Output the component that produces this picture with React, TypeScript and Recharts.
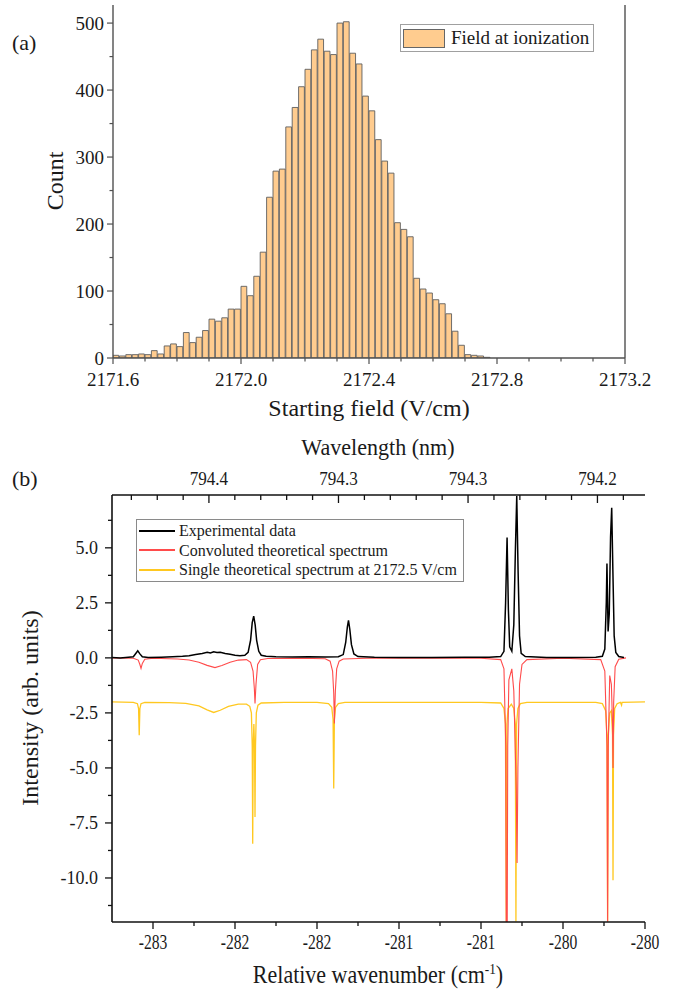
import React from "react";
import { BarChart, Bar, LineChart, Line, XAxis, YAxis, ReferenceLine, Legend } from "recharts";

const SERIF = '"Liberation Serif", "Times New Roman", serif';

// ---- (a) field at ionization histogram ----
const fieldBins = [
  2171.61, 2171.63, 2171.65, 2171.67, 2171.69, 2171.71, 2171.73, 2171.75, 2171.77, 2171.79,
  2171.81, 2171.83, 2171.85, 2171.87, 2171.89, 2171.91, 2171.93, 2171.95, 2171.97, 2171.99,
  2172.01, 2172.03, 2172.05, 2172.07, 2172.09, 2172.11, 2172.13, 2172.15, 2172.17, 2172.19,
  2172.21, 2172.23, 2172.25, 2172.27, 2172.29, 2172.31, 2172.33, 2172.35, 2172.37, 2172.39,
  2172.41, 2172.43, 2172.45, 2172.47, 2172.49, 2172.51, 2172.53, 2172.55, 2172.57, 2172.59,
  2172.61, 2172.63, 2172.65, 2172.67, 2172.69, 2172.71, 2172.73, 2172.75, 2172.77,
];
const fieldCounts = [
  4, 3, 5, 5, 6, 5, 11, 6, 18, 21,
  17, 38, 23, 31, 41, 58, 55, 60, 73, 73,
  107, 93, 122, 158, 240, 279, 282, 345, 374, 405,
  431, 460, 476, 458, 453, 500, 502, 455, 439, 391,
  369, 326, 294, 276, 202, 192, 181, 119, 103, 97,
  87, 81, 66, 40, 19, 5, 4, 3, 1,
];
const fieldTicks = [
  2171.6, 2171.7, 2171.8, 2171.9, 2172.0, 2172.1, 2172.2, 2172.3, 2172.4,
  2172.5, 2172.6, 2172.7, 2172.8, 2172.9, 2173.0, 2173.1, 2173.2,
];
const fieldMajor = [2171.6, 2172.0, 2172.4, 2172.8, 2173.2];
const countTicks = [0, 50, 100, 150, 200, 250, 300, 350, 400, 450, 500];
const countMajor = [0, 100, 200, 300, 400, 500];
const histName = "Field at ionization";

// ---- (b) spectra ----
const expWn = [
  -283.25, -283.2, -283.15, -283.12, -283.105, -283.093, -283.08, -283.065, -283.03, -282.95,
  -282.88, -282.82, -282.78, -282.74, -282.7, -282.67, -282.65, -282.63, -282.61, -282.59,
  -282.56, -282.53, -282.5, -282.47, -282.44, -282.42, -282.405, -282.395, -282.386, -282.377,
  -282.368, -282.355, -282.34, -282.31, -282.25, -282.15, -282.05, -281.95, -281.87, -281.84,
  -281.825, -281.815, -281.808, -281.8, -281.79, -281.775, -281.75, -281.65, -281.5, -281.3,
  -281.1, -280.95, -280.88, -280.86, -280.85, -280.841, -280.833, -280.825, -280.812, -280.8,
  -280.79, -280.782, -280.774, -280.765, -280.755, -280.73, -280.6, -280.45, -280.3, -280.26,
  -280.245, -280.236, -280.232, -280.225, -280.218, -280.21, -280.203, -280.196, -280.188, -280.178,
  -280.16, -280.128,
];
const expInt = [
  0.02, 0.0, 0.03, 0.05, 0.2, 0.32, 0.18, 0.05, 0.02, 0.03,
  0.05, 0.07, 0.1, 0.15, 0.2, 0.25, 0.22, 0.28, 0.24, 0.26,
  0.2, 0.16, 0.12, 0.1, 0.12, 0.25, 0.8, 1.6, 1.9, 1.5,
  0.8, 0.3, 0.12, 0.07, 0.05, 0.04, 0.05, 0.04, 0.05, 0.15,
  0.7, 1.4, 1.7, 1.3, 0.6, 0.18, 0.06, 0.03, 0.02, 0.02,
  0.03, 0.03, 0.06, 0.3, 2.5, 5.47, 2.2, 0.5, 0.3, 1.5,
  5.0, 7.35, 4.0, 1.0, 0.2, 0.06, 0.02, 0.02, 0.03, 0.07,
  0.4, 2.5, 4.29, 1.2, 2.0, 5.5, 6.82, 4.0, 1.0, 0.25,
  0.06, 0.02,
];

const convWn = [
  -283.25, -283.12, -283.09, -283.08, -283.073, -283.065, -283.05, -283.0, -282.85, -282.78,
  -282.72, -282.67, -282.622, -282.58, -282.53, -282.48, -282.43, -282.405, -282.39, -282.382,
  -282.378, -282.372, -282.362, -282.345, -282.3, -282.1, -281.95, -281.92, -281.905, -281.898,
  -281.894, -281.888, -281.88, -281.865, -281.84, -281.7, -281.3, -281.0, -280.88, -280.86,
  -280.849, -280.846, -280.84, -280.837, -280.83, -280.812, -280.8, -280.785, -280.78, -280.775,
  -280.765, -280.75, -280.72, -280.5, -280.27, -280.245, -280.232, -280.228, -280.224, -280.215,
  -280.205, -280.198, -280.195, -280.191, -280.182, -280.16, -280.116,
];
const convInt = [
  0, -0.02, -0.1, -0.3, -0.48, -0.25, -0.06, -0.02, -0.05, -0.1,
  -0.2, -0.34, -0.44, -0.35, -0.2, -0.1, -0.08, -0.2, -0.6, -1.4,
  -2.07, -1.2, -0.3, -0.08, -0.03, -0.02, -0.04, -0.15, -0.6, -1.6,
  -2.98, -1.5, -0.5, -0.15, -0.05, -0.02, -0.01, -0.02, -0.08, -0.5,
  -4.0, -11.98, -11.98, -4.0, -1.0, -0.5, -1.5, -6.0, -9.32, -5.0,
  -1.2, -0.3, -0.08, -0.02, -0.08, -0.6, -4.0, -11.98, -4.0, -0.8,
  -1.2, -3.0, -5.0, -2.0, -0.4, -0.06, 0,
];

const singleWn = [
  -283.25, -283.12, -283.095, -283.088, -283.084, -283.08, -283.073, -283.05, -282.9, -282.8,
  -282.72, -282.67, -282.63, -282.59, -282.54, -282.48, -282.43, -282.41, -282.4, -282.395,
  -282.392, -282.389, -282.385, -282.381, -282.378, -282.375, -282.37, -282.36, -282.34, -282.2,
  -282.0, -281.93, -281.91, -281.902, -281.898, -281.894, -281.887, -281.87, -281.83, -281.0,
  -280.88, -280.86, -280.851, -280.846, -280.842, -280.835, -280.815, -280.8, -280.791, -280.787,
  -280.783, -280.775, -280.76, -280.72, -280.3, -280.26, -280.24, -280.232, -280.228, -280.224,
  -280.215, -280.205, -280.198, -280.195, -280.192, -280.185, -280.17, -280.15, -280.143, -280.14,
  -280.0,
];
const singleInt = [
  -2.0, -2.02, -2.08, -2.3, -3.51, -2.3, -2.08, -2.02, -2.03, -2.07,
  -2.18, -2.36, -2.48, -2.38, -2.2, -2.1, -2.1, -2.2, -2.5, -4.0,
  -8.44, -4.0, -3.0, -4.0, -7.23, -4.0, -2.5, -2.15, -2.05, -2.02,
  -2.02, -2.08, -2.25, -2.8, -5.94, -2.8, -2.25, -2.08, -2.02, -2.02,
  -2.05, -2.3, -3.0, -11.98, -3.0, -2.3, -2.1, -2.3, -3.0, -11.98,
  -3.0, -2.3, -2.08, -2.02, -2.02, -2.08, -2.4, -3.5, -11.98, -3.5,
  -2.5, -2.4, -3.5, -10.1, -3.5, -2.3, -2.08, -2.02, -2.15, -2.02,
  -2.0,
];

const seriesNames = [
  "Experimental data",
  "Convoluted theoretical spectrum",
  "Single theoretical spectrum at 2172.5 V/cm",
];
const seriesColors = ["#000000", "#ff4b4b", "#ffc820"];

const wnTicks = [
  -283, -282.75, -282.5, -282.25, -282, -281.75, -281.5, -281.25, -281, -280.75, -280.5, -280.25, -280,
];
const wnMajor = [-283, -282.5, -282, -281.5, -281, -280.5, -280];
const intTicks = [
  -11.25, -10, -8.75, -7.5, -6.25, -5, -3.75, -2.5, -1.25, 0, 1.25, 2.5, 3.75, 5, 6.25,
];
const intMajor = [-10, -7.5, -5, -2.5, 0, 2.5, 5];
// wavelength ticks placed at their wavenumber positions
const wlTicks = [
  -283.132, -282.974, -282.816, -282.659, -282.501, -282.343, -282.185, -282.027, -281.869, -281.711,
  -281.553, -281.395, -281.237, -281.079, -280.921, -280.763, -280.605, -280.448, -280.29, -280.132,
];
const wlMajor = [-282.659, -281.869, -281.079, -280.29];
const wlLabels = ["794.4", "794.3", "794.3", "794.2"];

const histData = fieldBins.map((f, i) => ({ field: f, count: fieldCounts[i] }));
const zip = (xs: number[], ys: number[]) => xs.map((x, i) => ({ wn: x, v: ys[i] }));
const specData = [zip(expWn, expInt), zip(convWn, convInt), zip(singleWn, singleInt)];

const near = (list: number[], v: number) => list.findIndex((m) => Math.abs(m - v) < 1e-6);

type TickOpts = {
  majors: number[];
  fmt: (v: number, idx: number) => string;
  color: string;
  width: number;
  major: number;
  minor: number;
  gap: number;
  size: number;
  sx?: number;
};

function bottomTick(o: TickOpts) {
  return (p: any) => {
    const v = p.payload.value;
    const idx = near(o.majors, v);
    const len = idx >= 0 ? o.major : o.minor;
    return (
      <g>
        <line x1={p.x} x2={p.x} y1={p.y} y2={p.y + len} stroke={o.color} strokeWidth={o.width} />
        {idx >= 0 && (
          <text
            transform={`translate(${p.x},${p.y + o.gap}) scale(${o.sx ?? 1},1)`}
            textAnchor="middle"
            fontFamily={SERIF}
            fontSize={o.size}
            fill="#1a1a1a"
          >
            {o.fmt(v, idx)}
          </text>
        )}
      </g>
    );
  };
}

function topTick(o: TickOpts) {
  return (p: any) => {
    const v = p.payload.value;
    const idx = near(o.majors, v);
    const len = idx >= 0 ? o.major : o.minor;
    return (
      <g>
        <line x1={p.x} x2={p.x} y1={p.y} y2={p.y + len} stroke={o.color} strokeWidth={o.width} />
        {idx >= 0 && (
          <text
            transform={`translate(${p.x},${p.y - o.gap}) scale(${o.sx ?? 1},1)`}
            textAnchor="middle"
            fontFamily={SERIF}
            fontSize={o.size}
            fill="#1a1a1a"
          >
            {o.fmt(v, idx)}
          </text>
        )}
      </g>
    );
  };
}

function leftTick(o: TickOpts) {
  return (p: any) => {
    const v = p.payload.value;
    const idx = near(o.majors, v);
    const len = idx >= 0 ? o.major : o.minor;
    return (
      <g>
        <line x1={p.x - len} x2={p.x} y1={p.y} y2={p.y} stroke={o.color} strokeWidth={o.width} />
        {idx >= 0 && (
          <text
            transform={`translate(${p.x - o.gap},${p.y}) scale(${o.sx ?? 1},1)`}
            dy="0.35em"
            textAnchor="end"
            fontFamily={SERIF}
            fontSize={o.size}
            fill="#1a1a1a"
          >
            {o.fmt(v, idx)}
          </text>
        )}
      </g>
    );
  };
}

const AXIS_A = "#505050";
const AXIS_B = "#111111";

function HistLegend() {
  return (
    <div
      style={{
        display: "flex",
        alignItems: "center",
        border: "1px solid #a0a0a0",
        background: "#fff",
        padding: "2px 4px 2px 2px",
        fontFamily: SERIF,
        fontSize: 19,
        lineHeight: "22px",
        color: "#1a1a1a",
        whiteSpace: "nowrap",
      }}
    >
      <span
        style={{
          display: "inline-block",
          width: 42,
          height: 19,
          background: "#ffcc8f",
          border: "1px solid #666",
          boxSizing: "border-box",
          marginRight: 6,
        }}
      />
      {histName}
    </div>
  );
}

function SpecLegend() {
  return (
    <div
      style={{
        border: "1px solid #8a8a8a",
        background: "#fff",
        padding: "1px 6px 1px 2px",
        fontFamily: SERIF,
        fontSize: 16,
        lineHeight: "19.5px",
        color: "#1a1a1a",
        whiteSpace: "nowrap",
      }}
    >
      {seriesNames.map((n, i) => (
        <div key={n} style={{ display: "flex", alignItems: "center" }}>
          <span
            style={{
              display: "inline-block",
              width: 36,
              height: 0,
              borderTop: `2px solid ${seriesColors[i]}`,
              marginRight: 4,
            }}
          />
          {n}
        </div>
      ))}
    </div>
  );
}

export default function App() {
  return (
    <div style={{ position: "absolute", left: 0, top: 0, width: 679, height: 993, background: "#fff" }}>
      <div style={{ position: "absolute", left: 12, top: 30, fontFamily: SERIF, fontSize: 22, color: "#1a1a1a" }}>
        (a)
      </div>
      <div style={{ position: "absolute", left: 12, top: 466, fontFamily: SERIF, fontSize: 22, color: "#1a1a1a" }}>
        (b)
      </div>

      <div style={{ position: "absolute", left: 0, top: 0 }}>
        <BarChart
          width={679}
          height={430}
          data={histData}
          margin={{ top: 5, right: 54, bottom: 0, left: 0 }}
          barCategoryGap={0}
          barGap={0}
        >
          <XAxis
            type="number"
            dataKey="field"
            domain={[2171.6, 2173.2]}
            allowDataOverflow
            ticks={fieldTicks}
            interval={0}
            height={72}
            tickSize={0}
            tickMargin={0}
            tickLine={false}
            axisLine={{ stroke: AXIS_A, strokeWidth: 1.4 }}
            tick={bottomTick({
              majors: fieldMajor,
              fmt: (v) => v.toFixed(1),
              color: AXIS_A,
              width: 1.2,
              major: 6,
              minor: 3.5,
              gap: 28,
              size: 19,
            })}
            label={() => (
              <text x={369} y={416} textAnchor="middle" fontFamily={SERIF} fontSize={24} fill="#1a1a1a">
                Starting field (V/cm)
              </text>
            )}
          />
          <YAxis
            type="number"
            domain={[0, 527]}
            allowDataOverflow
            ticks={countTicks}
            interval={0}
            width={113}
            tickSize={0}
            tickMargin={0}
            tickLine={false}
            axisLine={{ stroke: AXIS_A, strokeWidth: 1.4 }}
            tick={leftTick({
              majors: countMajor,
              fmt: (v) => String(v),
              color: AXIS_A,
              width: 1.2,
              major: 6,
              minor: 3.5,
              gap: 9,
              size: 19,
            })}
            label={() => (
              <text
                transform="translate(63,181) rotate(-90)"
                textAnchor="middle"
                fontFamily={SERIF}
                fontSize={24}
                fill="#1a1a1a"
              >
                Count
              </text>
            )}
          />
          <ReferenceLine x={2173.2} stroke={AXIS_A} strokeWidth={1.4} />
          <Legend
            layout="vertical"
            align="center"
            verticalAlign="middle"
            content={() => <HistLegend />}
            wrapperStyle={{ left: 400, top: 24, width: "auto" }}
          />
          <Bar
            dataKey="count"
            name={histName}
            fill="#ffcc8f"
            stroke="#5f5f5f"
            strokeWidth={0.9}
            barSize={6.4}
            isAnimationActive={false}
          />
        </BarChart>
      </div>

      <div style={{ position: "absolute", left: 0, top: 430 }}>
        <LineChart width={679} height={563} margin={{ top: 0, right: 34, bottom: 0, left: 0 }}>
          <XAxis
            type="number"
            dataKey="wn"
            domain={[-283.25, -280]}
            allowDataOverflow
            ticks={wnTicks}
            interval={0}
            height={71}
            tickSize={0}
            tickMargin={0}
            tickLine={false}
            axisLine={{ stroke: AXIS_B, strokeWidth: 1.6 }}
            tick={bottomTick({
              majors: wnMajor,
              fmt: (v) => String(Math.round(v)),
              color: AXIS_B,
              width: 1.3,
              major: 7,
              minor: 4,
              gap: 27,
              size: 20,
              sx: 0.78,
            })}
            label={() => (
              <text
                transform="translate(378,553) scale(0.88,1)"
                textAnchor="middle"
                fontFamily={SERIF}
                fontSize={25}
                fill="#1a1a1a"
              >
                Relative wavenumber (cm
                <tspan dy={-9} fontSize={15}>
                  -1
                </tspan>
                <tspan dy={9}>)</tspan>
              </text>
            )}
          />
          <XAxis
            xAxisId="top"
            orientation="top"
            type="number"
            dataKey="wn"
            domain={[-283.25, -280]}
            allowDataOverflow
            ticks={wlTicks}
            interval={0}
            height={65}
            tickSize={0}
            tickMargin={0}
            tickLine={false}
            axisLine={{ stroke: AXIS_B, strokeWidth: 1.6 }}
            tick={topTick({
              majors: wlMajor,
              fmt: (_v, i) => wlLabels[i],
              color: AXIS_B,
              width: 1.3,
              major: 8,
              minor: 5,
              gap: 10,
              size: 19,
              sx: 0.9,
            })}
            label={() => (
              <text
                transform="translate(378,25) scale(0.92,1)"
                textAnchor="middle"
                fontFamily={SERIF}
                fontSize={24}
                fill="#1a1a1a"
              >
                Wavelength (nm)
              </text>
            )}
          />
          <YAxis
            type="number"
            domain={[-12, 7.4]}
            allowDataOverflow
            ticks={intTicks}
            interval={0}
            width={112}
            tickSize={0}
            tickMargin={0}
            tickLine={false}
            axisLine={{ stroke: AXIS_B, strokeWidth: 1.6 }}
            tick={leftTick({
              majors: intMajor,
              fmt: (v) => v.toFixed(1),
              color: AXIS_B,
              width: 1.3,
              major: 7,
              minor: 4,
              gap: 14,
              size: 18,
            })}
            label={() => (
              <text
                transform="translate(38,278) rotate(-90)"
                textAnchor="middle"
                fontFamily={SERIF}
                fontSize={24}
                fill="#1a1a1a"
              >
                Intensity (arb. units)
              </text>
            )}
          />
          <Legend
            layout="vertical"
            align="center"
            verticalAlign="middle"
            content={() => <SpecLegend />}
            wrapperStyle={{ left: 136, top: 89, width: "auto" }}
          />
          <Line
            xAxisId="top"
            data={specData[2]}
            dataKey="v"
            name={seriesNames[2]}
            stroke={seriesColors[2]}
            strokeWidth={1.3}
            dot={false}
            type="linear"
            isAnimationActive={false}
          />
          <Line
            data={specData[1]}
            dataKey="v"
            name={seriesNames[1]}
            stroke={seriesColors[1]}
            strokeWidth={1.1}
            dot={false}
            type="linear"
            isAnimationActive={false}
          />
          <Line
            data={specData[0]}
            dataKey="v"
            name={seriesNames[0]}
            stroke={seriesColors[0]}
            strokeWidth={1.5}
            dot={false}
            type="linear"
            isAnimationActive={false}
          />
        </LineChart>
      </div>
    </div>
  );
}
